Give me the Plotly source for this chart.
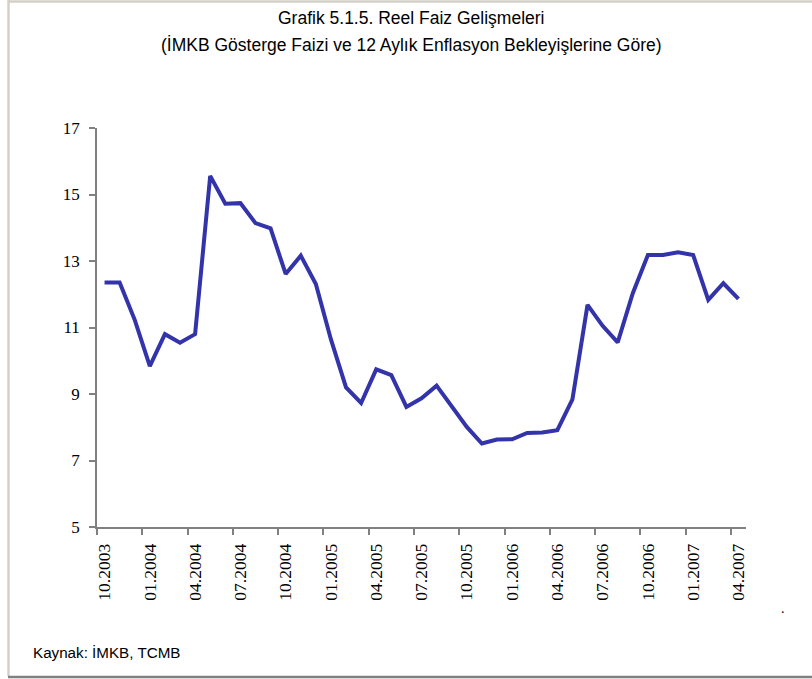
import plotly.graph_objects as go

# ---- data ----
months = [
    "10.2003", "11.2003", "12.2003",
    "01.2004", "02.2004", "03.2004", "04.2004", "05.2004", "06.2004",
    "07.2004", "08.2004", "09.2004", "10.2004", "11.2004", "12.2004",
    "01.2005", "02.2005", "03.2005", "04.2005", "05.2005", "06.2005",
    "07.2005", "08.2005", "09.2005", "10.2005", "11.2005", "12.2005",
    "01.2006", "02.2006", "03.2006", "04.2006", "05.2006", "06.2006",
    "07.2006", "08.2006", "09.2006", "10.2006", "11.2006", "12.2006",
    "01.2007", "02.2007", "03.2007", "04.2007",
]
real_rate = [
    12.35, 12.35, 11.23,
    9.84, 10.80, 10.54, 10.80, 15.56, 14.72,
    14.74, 14.14, 13.98, 12.61, 13.16, 12.31,
    10.64, 9.20, 8.73, 9.74, 9.57, 8.61,
    8.87, 9.25, 8.61, 8.01, 7.51, 7.63,
    7.64, 7.83, 7.84, 7.91, 8.84, 11.68,
    11.05, 10.55, 12.03, 13.18, 13.18, 13.26,
    13.18, 11.83, 12.33, 11.86,
]
y_ticks = [5, 7, 9, 11, 13, 15, 17]

title_line1 = "Grafik 5.1.5. Reel Faiz Gelişmeleri"
title_line2 = "(İMKB Gösterge Faizi ve 12 Aylık Enflasyon Bekleyişlerine Göre)"
source_text = "Kaynak: İMKB, TCMB"

# ---- layout geometry (pixels) ----
W, H = 812, 679
ML, MR, MT, MB = 97, 66, 128, 152
PW, PH = W - ML - MR, H - MT - MB


def px(x):
    return (x - ML) / PW


def py(y):
    return (H - MB - y) / PH


idx = list(range(len(months)))
label_idx = idx[::3]
label_txt = [months[i] for i in label_idx]

fig = go.Figure()
fig.add_trace(go.Scatter(
    x=idx, y=real_rate, mode="lines",
    line=dict(color="#3333aa", width=4),
    hoverinfo="skip", showlegend=False,
))

axis_col = "#808080"
serif = "Liberation Serif, Times New Roman, serif"
sans = "Liberation Sans, Arial, sans-serif"

fig.update_layout(
    width=W, height=H,
    margin=dict(l=ML, r=MR, t=MT, b=MB, pad=0),
    paper_bgcolor="white", plot_bgcolor="white",
    showlegend=False,
    xaxis=dict(
        range=[-0.5, len(months) - 0.5],
        tickmode="array", tickvals=label_idx, ticktext=label_txt,
        ticks="", tickangle=-90,
        tickfont=dict(family=serif, size=17.5, color="black"),
        showgrid=False, zeroline=False,
        showline=True, linecolor=axis_col, linewidth=1.5,
        minor=dict(ticks="outside", tick0=-0.5, dtick=3, ticklen=6,
                   tickcolor=axis_col, tickwidth=1.5, showgrid=False),
        ticklabelstandoff=8,
    ),
    yaxis=dict(
        range=[5, 17],
        tickmode="array", tickvals=y_ticks,
        ticks="outside", ticklen=6, tickcolor=axis_col, tickwidth=1.5,
        tickfont=dict(family=serif, size=17, color="black"),
        showgrid=False, zeroline=False,
        showline=True, linecolor=axis_col, linewidth=1.5,
        ticklabelstandoff=6,
    ),
    shapes=[
        dict(type="line", xref="paper", yref="paper",
             x0=px(8.5), x1=px(8.5), y0=py(0), y1=py(676),
             line=dict(color="#d4d0c8", width=2.5)),
        dict(type="line", xref="paper", yref="paper",
             x0=px(8), x1=px(812), y0=py(1.5), y1=py(1.5),
             line=dict(color="#d4d0c8", width=2.5)),
        dict(type="line", xref="paper", yref="paper",
             x0=px(8), x1=px(812), y0=py(677), y1=py(677),
             line=dict(color="#808080", width=2.5)),
    ],
    annotations=[
        dict(text=title_line1, xref="paper", yref="paper",
             x=px(411), y=py(18), xanchor="center", yanchor="middle",
             showarrow=False, font=dict(family=sans, size=17.5, color="black")),
        dict(text=title_line2, xref="paper", yref="paper",
             x=px(411), y=py(45), xanchor="center", yanchor="middle",
             showarrow=False, font=dict(family=sans, size=17.5, color="black")),
        dict(text=source_text, xref="paper", yref="paper",
             x=px(31), y=py(652), xanchor="left", yanchor="middle",
             showarrow=False, font=dict(family=sans, size=15.2, color="black")),
        dict(text=".", xref="paper", yref="paper",
             x=px(783), y=py(608), xanchor="center", yanchor="middle",
             showarrow=False, font=dict(family=serif, size=14, color="black")),
    ],
)

fig.write_html(
    "out.html",
    config={"displayModeBar": False},
    post_script="document.body.style.margin='0';document.body.style.overflow='hidden';",
)
